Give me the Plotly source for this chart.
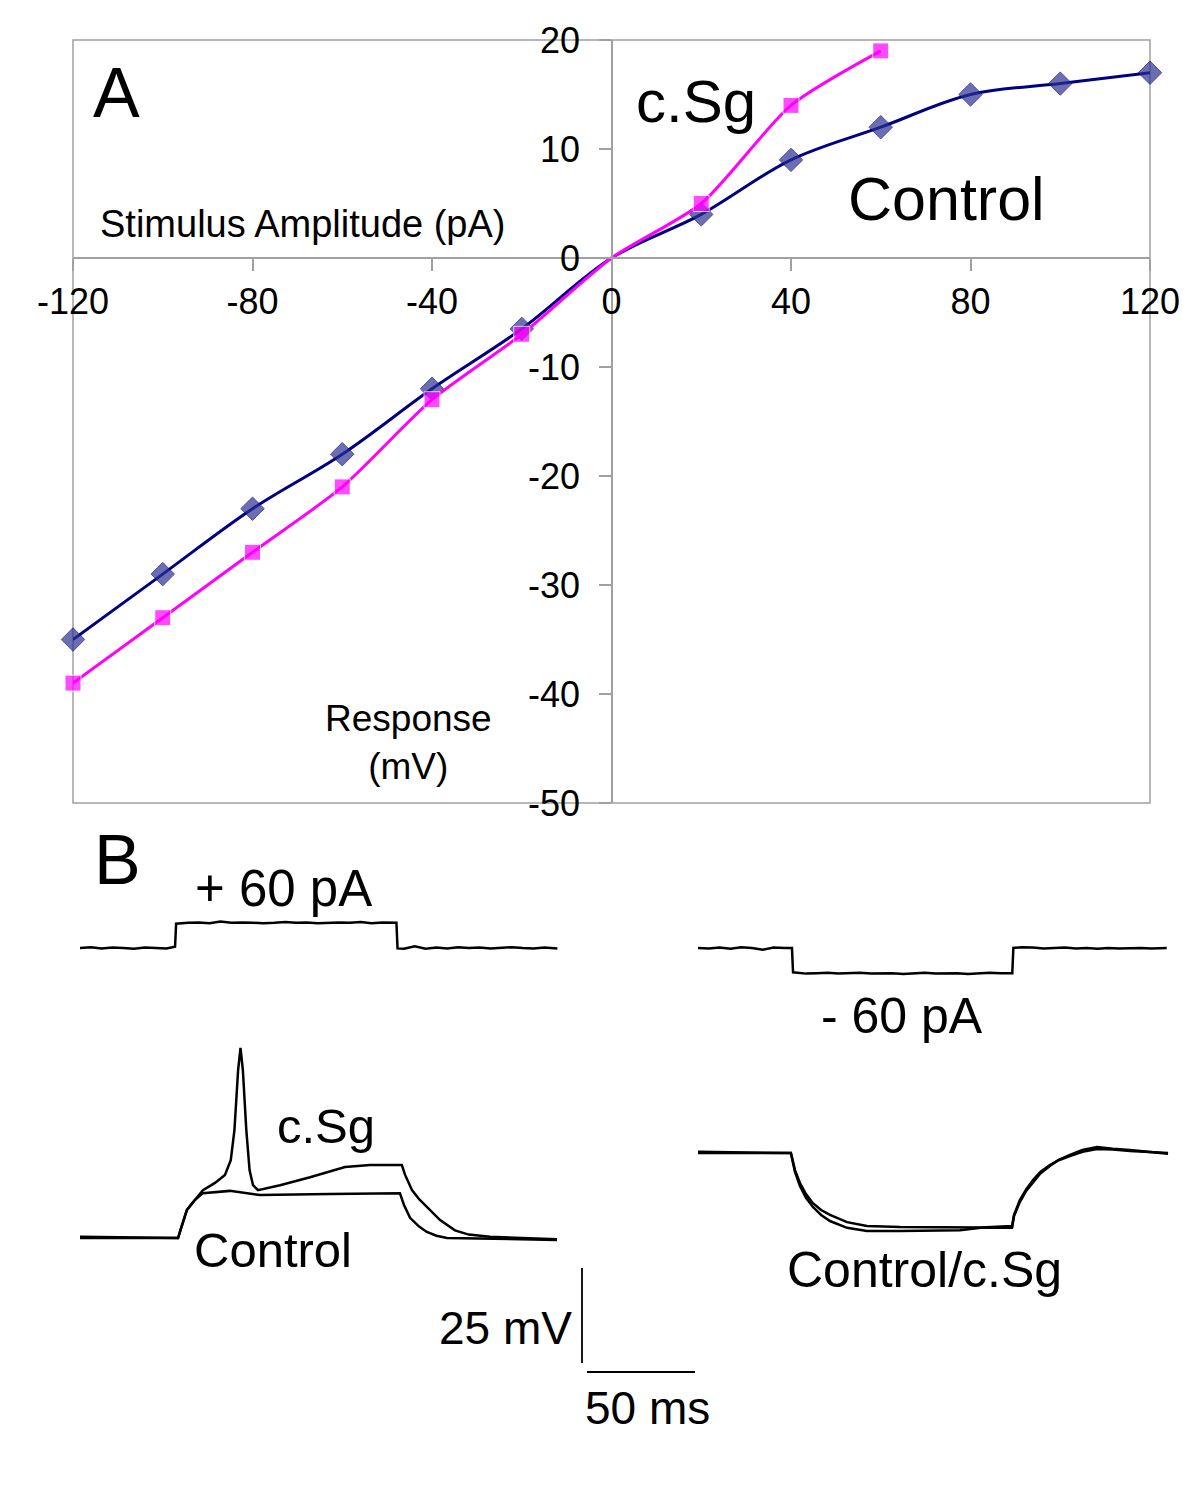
import plotly.graph_objects as go

# ---------------- Panel A data (I-V relation) ----------------
ctrl_x = [-120, -100, -80, -60, -40, -20, 0, 20, 40, 60, 80, 100, 120]
ctrl_y = [-35, -29, -23, -18, -12, -6.5, 0, 4, 9, 12, 15, 16, 17]
csg_x = [-120, -100, -80, -60, -40, -20, 0, 20, 40, 60]
csg_y = [-39, -33, -27, -21, -13, -7, 0, 5, 14, 19]
x_ticks = [-120, -80, -40, 0, 40, 80, 120]
x_tick_text = ["-120", "-80", "-40", "0", "40", "80", "120"]
y_ticks = [20, 10, 0, -10, -20, -30, -40, -50]
y_tick_text = ["20", "10", "0", "-10", "-20", "-30", "-40", "-50"]

# ---------------- Panel B data (recordings) ----------------
# current steps (time ms from trace start, current pA)
cur_pos_t = [0, 5, 10, 15, 20, 25, 30, 35, 40, 44, 44.5, 50, 55, 60, 65, 70, 75, 80, 85, 90, 95, 100,
             105, 110, 115, 120, 125, 130, 135, 140, 146.5, 147, 150, 155, 160, 165, 170, 175, 180,
             185, 190, 195, 200, 205, 210, 215, 221]
cur_pos_i = [0, 2, -1, 1, 0, -2, 1, 0, -1, 3, 58, 60, 61, 59, 63, 60, 61, 60, 59, 60, 62, 60,
             61, 59, 60, 61, 60, 62, 59, 61, 60, -1, -2, 4, -2, 1, -1, 2, 0, 1, -1, 0, 2, 0, -1, 1, -1]
cur_neg_t = [0, 5, 10, 15, 20, 25, 30, 35, 40, 43.5, 44, 50, 55, 60, 65, 70, 75, 80, 85, 90, 95, 100,
             105, 110, 115, 120, 125, 130, 135, 140, 145.5, 146, 150, 155, 160, 165, 170, 175, 180,
             185, 190, 195, 200, 205, 210, 217]
cur_neg_i = [0, -1, 1, -2, 2, 0, -4, 1, 0, 0, -58, -61, -60, -59, -61, -60, -59, -61, -60, -60, -62, -60,
             -59, -61, -60, -60, -62, -60, -59, -60, -60, 0, 2, 1, -1, 0, 1, -1, 0, -2, 0, -1, 0, 0, -1, 0]

# depolarising responses (+60 pA): time ms, voltage mV relative to rest
vpos_ctrl_t = [0, 45.4, 46.8, 49.5, 53.2, 56.9, 69.4, 83.3, 115.7, 148.1, 150, 152.8, 157, 160.6, 165, 169.9, 220.8]
vpos_ctrl_v = [0, 0, 2.6, 7.4, 10, 11.8, 12.4, 11.3, 11.6, 11.8, 8.7, 5.3, 3.0, 1.6, 0.6, 0, -0.5]
vpos_csg_t = [0, 45.4, 46.8, 49.5, 53.2, 56.9, 62.5, 67.1, 69.8, 71.5, 73.2, 74.3, 75.4, 77.0, 78.5,
              80.1, 82.4, 92.6, 106.5, 122.7, 134.3, 149, 150.5, 153.7, 157, 160.6, 166.7, 173.6, 180, 189.8, 220.8]
vpos_csg_v = [0.3, 0, 2.6, 7.4, 10, 12.6, 14.5, 16.6, 20.5, 28.4, 44.2, 50, 44.2, 28.4, 17.9,
              13.9, 12.6, 13.9, 16, 18.7, 19.2, 19.2, 16.6, 12.6, 10.2, 8.2, 4.7, 2.0, 0.9, 0.3, -0.3]

# hyperpolarising responses (-60 pA)
vneg_t = [0, 43, 44.9, 47.2, 50, 53.2, 57, 61.1, 69, 78.2, 93.5, 121.3, 131, 145.4, 146.3, 149, 152, 155.1,
          158.5, 162.9, 167, 172.2, 178, 184.7, 192, 200, 217.6]
vneg_ctrl_v = [0.3, 0, -4.5, -7.9, -10.8, -13.2, -15.0, -16.3, -18.2, -19.2, -19.5, -19.5, -19.6, -19.2, -16.3,
               -12.4, -9.5, -7.1, -5.0, -3.2, -1.9, -0.8, 0.3, 1.05, 0.9, 0.5, 0]
vneg_csg_v = [0, 0, -5, -8.7, -11.8, -14.2, -16.3, -17.9, -19.7, -20.5, -20.5, -20.3, -19.7, -19.7, -16.6,
              -12.9, -9.9, -7.6, -5.4, -3.4, -1.8, -0.5, 0.8, 1.6, 1.1, 0.8, -0.2]

# ---------------- layout helpers ----------------
OFF = 8                      # page body margin of the html page
W, H = 1200 - 2 * OFF, 1500 - 2 * OFF
FONT = "Liberation Sans, Arial, sans-serif"
PX_PER_MS = 2.16
PX_PER_MV = 3.8
B_TOP = 825
CUR_GAIN = 0.42 / PX_PER_MV  # display units per pA

def px(x):
    return (x - OFF) / W

def py(y):
    return 1 - (y - OFF) / H

def bt(xpix):
    return (xpix - OFF) / PX_PER_MS

def bv(ypix):
    return (H + OFF - ypix) / PX_PER_MV

fig = go.Figure()

# Panel A
fig.add_trace(go.Scatter(
    x=ctrl_x, y=ctrl_y, mode="lines+markers",
    line=dict(color="#000080", width=3, shape="spline", smoothing=1.0),
    marker=dict(symbol="diamond", size=[18] * 6 + [0] + [18] * 6, color="#2e3192"),
    cliponaxis=False, name="Control"))
fig.add_trace(go.Scatter(
    x=csg_x, y=csg_y, mode="lines+markers",
    line=dict(color="#ff00ff", width=3, shape="spline", smoothing=0.7),
    marker=dict(symbol="square", size=[16] * 6 + [0] + [16] * 3, color="#ff00ff"),
    cliponaxis=False, name="c.Sg"))

# Panel B traces
def add_b(t, v, t0px, v0px, scale=1.0, width=2.5):
    fig.add_trace(go.Scatter(
        x=[bt(t0px) + ti for ti in t],
        y=[bv(v0px) + vi * scale for vi in v],
        mode="lines", line=dict(color="black", width=width),
        xaxis="x2", yaxis="y2", showlegend=False, hoverinfo="skip"))

add_b(cur_pos_t, cur_pos_i, 80, 948, CUR_GAIN)
add_b(cur_neg_t, cur_neg_i, 698, 948, CUR_GAIN)
add_b(vpos_ctrl_t, vpos_ctrl_v, 80, 1238)
add_b(vpos_csg_t, vpos_csg_v, 80, 1238)
add_b(vneg_t, vneg_ctrl_v, 698, 1153)
add_b(vneg_t, vneg_csg_v, 698, 1153)

# scale bars: 25 mV and 50 ms
add_b([0, 0], [0, 25], 582, 1363, 1.0, 1.8)
add_b([0, 50], [0, 0], 587, 1372, 1.0, 1.8)

axis_gray = "#a0a0a0"
fig.update_layout(
    width=W, height=H, margin=dict(l=0, r=0, t=0, b=0, autoexpand=False),
    paper_bgcolor="white", plot_bgcolor="white", showlegend=False,
    font=dict(family=FONT, color="black"),
    xaxis=dict(domain=[px(73), px(1150)], range=[-120, 120], anchor="free", position=py(258),
               automargin=False,
               showline=True, linecolor=axis_gray, linewidth=1.5, showgrid=False, zeroline=False,
               ticks="outside", ticklen=12, tickcolor=axis_gray, tickwidth=1.5,
               tickvals=x_ticks, ticktext=x_tick_text,
               tickfont=dict(size=36, family=FONT, color="black")),
    yaxis=dict(domain=[py(803), py(40)], range=[-50, 20], anchor="free", position=px(612),
               automargin=False,
               showline=True, linecolor=axis_gray, linewidth=1.5, showgrid=False, zeroline=False,
               ticks="outside", ticklen=12, tickcolor=axis_gray, tickwidth=1.5,
               tickvals=y_ticks, ticktext=y_tick_text, ticklabelstandoff=12,
               tickfont=dict(size=36, family=FONT, color="black")),
    xaxis2=dict(domain=[0, 1], range=[0, W / PX_PER_MS], visible=False, anchor="y2", automargin=False),
    yaxis2=dict(domain=[0, py(B_TOP)], range=[0, (H + OFF - B_TOP) / PX_PER_MV], visible=False,
                anchor="x2", automargin=False),
)

fig.add_shape(type="rect", xref="paper", yref="paper", x0=px(73), x1=px(1150), y0=py(803), y1=py(40),
              line=dict(color=axis_gray, width=1.5), layer="below")

def txt(s, x, y, size, xanchor="center"):
    fig.add_annotation(text=s, x=px(x), y=py(y), xref="paper", yref="paper", showarrow=False,
                       xanchor=xanchor, yanchor="middle", font=dict(size=size, family=FONT, color="black"))

txt("A", 116, 93, 70)
txt("c.Sg", 696, 102, 60)
txt("Control", 946, 199, 61)
txt("Stimulus Amplitude (pA)", 303, 224, 38)
txt("Response<br>(mV)", 408, 742, 37)
txt("B", 117, 860, 70)
txt("+ 60 pA", 283, 888, 51)
txt("- 60 pA", 902, 1016, 50)
txt("c.Sg", 326, 1126, 49)
txt("Control", 273, 1250, 49)
txt("Control/c.Sg", 924, 1270, 50)
txt("25 mV", 574, 1328, 46, xanchor="right")
txt("50 ms", 647, 1408, 46)

fig.write_html("out.html")
